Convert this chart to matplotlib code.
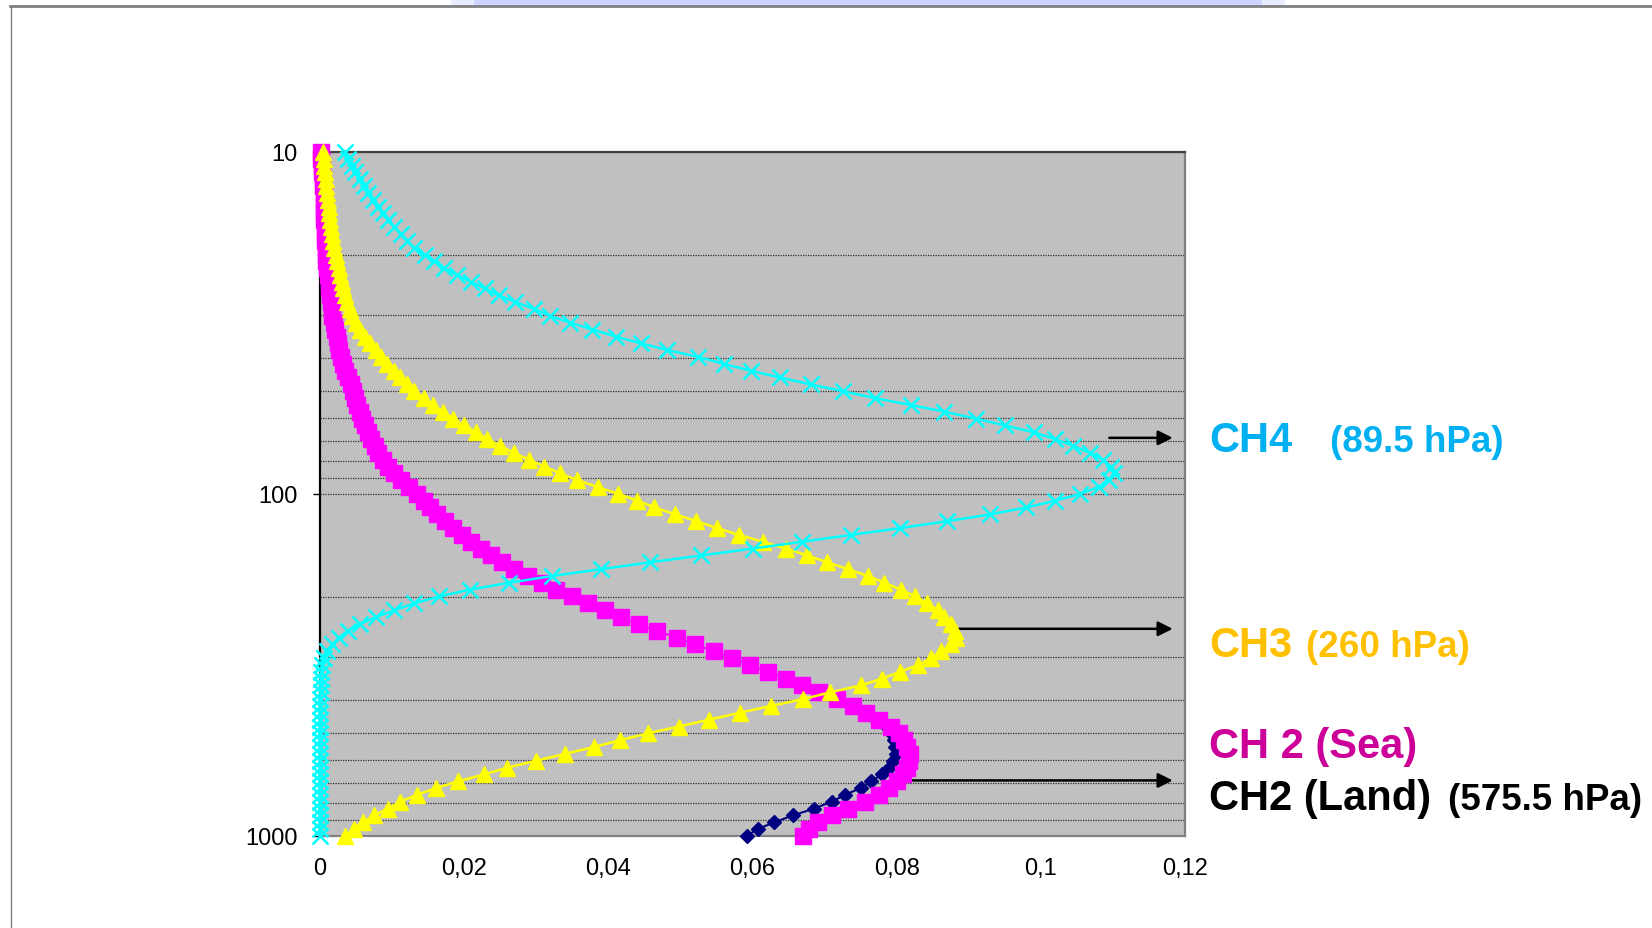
import matplotlib
matplotlib.use("Agg")
import matplotlib.pyplot as plt
from matplotlib.lines import Line2D
from matplotlib.patches import Rectangle
from matplotlib.ticker import LogLocator, FixedLocator, FuncFormatter, NullFormatter

plt.rcParams['font.family'] = ['Liberation Sans', 'DejaVu Sans']

# pressure levels (hPa)
plev = [10.0, 10.5, 11.0, 11.5, 12.0, 12.6, 13.2, 13.8, 14.5, 15.1,
        15.8, 16.6, 17.4, 18.2, 19.1, 20.0, 20.9, 21.9, 22.9, 24.0,
        25.1, 26.3, 27.5, 28.8, 30.2, 31.6, 33.1, 34.7, 36.3, 38.0,
        39.8, 41.7, 43.7, 45.7, 47.9, 50.1, 52.5, 55.0, 57.5, 60.3,
        63.1, 66.1, 69.2, 72.4, 75.9, 79.4, 83.2, 87.1, 91.2, 95.5,
        100.0, 104.7, 109.6, 114.8, 120.2, 125.9, 131.8, 138.0, 144.5, 151.4,
        158.5, 166.0, 173.8, 182.0, 190.5, 199.5, 208.9, 218.8, 229.1, 239.9,
        251.2, 263.0, 275.4, 288.4, 302.0, 316.2, 331.1, 346.7, 363.1, 380.2,
        398.1, 416.9, 436.5, 457.1, 478.6, 501.2, 524.8, 549.5, 575.4, 602.6,
        631.0, 660.7, 691.8, 724.4, 758.6, 794.3, 831.8, 871.0, 912.0, 955.0,
        1000.0]

# weighting functions
ch4 = [0.0035, 0.0039, 0.0044, 0.0049, 0.0055, 0.0061, 0.0067, 0.0073, 0.0080, 0.0087,
       0.0094, 0.0103, 0.0112, 0.0121, 0.0131, 0.0145, 0.0158, 0.0172, 0.0190, 0.0209,
       0.0229, 0.0248, 0.0271, 0.0297, 0.0319, 0.0347, 0.0378, 0.0410, 0.0445, 0.0482,
       0.0525, 0.0560, 0.0598, 0.0638, 0.0681, 0.0725, 0.0770, 0.0820, 0.0866, 0.0910,
       0.0950, 0.0990, 0.1020, 0.1045, 0.1068, 0.1086, 0.1097, 0.1101, 0.1095, 0.1080,
       0.1055, 0.1020, 0.0980, 0.0930, 0.0870, 0.0805, 0.0737, 0.0669, 0.0600, 0.0529,
       0.0458, 0.0390, 0.0322, 0.0262, 0.0208, 0.0165, 0.0131, 0.0103, 0.0078, 0.0056,
       0.0039, 0.0027, 0.0017, 0.0010, 0.0006, 0.0003, 0.0002, 0.0001, 0.0001, 0.0001,
       0.0, 0.0, 0.0, 0.0, 0.0, 0.0, 0.0, 0.0, 0.0, 0.0,
       0.0, 0.0, 0.0, 0.0, 0.0, 0.0, 0.0, 0.0, 0.0, 0.0,
       0.0]

ch3 = [0.0004, 0.0005, 0.0006, 0.0007, 0.0008, 0.0009, 0.0010, 0.0011, 0.0012, 0.0013,
       0.0014, 0.0015, 0.0017, 0.0018, 0.0020, 0.0022, 0.0024, 0.0026, 0.0028, 0.0030,
       0.0032, 0.0035, 0.0038, 0.0041, 0.0045, 0.0050, 0.0056, 0.0063, 0.0070, 0.0077,
       0.0084, 0.0093, 0.0102, 0.0111, 0.0121, 0.0131, 0.0144, 0.0157, 0.0170, 0.0184,
       0.0200, 0.0216, 0.0232, 0.0250, 0.0269, 0.0290, 0.0311, 0.0333, 0.0357, 0.0385,
       0.0414, 0.0440, 0.0464, 0.0493, 0.0522, 0.0551, 0.0581, 0.0614, 0.0646, 0.0676,
       0.0704, 0.0732, 0.0760, 0.0783, 0.0806, 0.0826, 0.0842, 0.0857, 0.0866, 0.0875,
       0.0881, 0.0882, 0.0876, 0.0862, 0.0848, 0.0830, 0.0805, 0.0780, 0.0750, 0.0708,
       0.0670, 0.0625, 0.0582, 0.0540, 0.0498, 0.0455, 0.0416, 0.0380, 0.0340, 0.0300,
       0.0260, 0.0228, 0.0192, 0.0161, 0.0134, 0.0111, 0.0094, 0.0075, 0.0060, 0.0047,
       0.0035]

ch2_sea = [0.0002, 0.0002, 0.0003, 0.0003, 0.0004, 0.0004, 0.0005, 0.0005, 0.0006, 0.0006,
           0.0006, 0.0007, 0.0007, 0.0007, 0.0008, 0.0008, 0.0009, 0.0010, 0.0011, 0.0012,
           0.0013, 0.0014, 0.0015, 0.0016, 0.0017, 0.0019, 0.0021, 0.0023, 0.0025, 0.0027,
           0.0029, 0.0032, 0.0035, 0.0039, 0.0043, 0.0046, 0.0049, 0.0052, 0.0055, 0.0058,
           0.0062, 0.0067, 0.0071, 0.0076, 0.0081, 0.0087, 0.0094, 0.0102, 0.0112, 0.0123,
           0.0135, 0.0144, 0.0153, 0.0163, 0.0174, 0.0185, 0.0197, 0.0210, 0.0223, 0.0237,
           0.0252, 0.0269, 0.0288, 0.0308, 0.0328, 0.0349, 0.0372, 0.0395, 0.0417, 0.0442,
           0.0467, 0.0495, 0.0520, 0.0546, 0.0571, 0.0597, 0.0621, 0.0646, 0.0669, 0.0692,
           0.0717, 0.0740, 0.0757, 0.0776, 0.0792, 0.0803, 0.0810, 0.0814, 0.0818, 0.0817,
           0.0814, 0.0809, 0.0801, 0.0790, 0.0775, 0.0756, 0.0732, 0.0710, 0.0691, 0.0678,
           0.0670]

# land profile only differs from sea in the lower troposphere (398 - 1000 hPa)
plev_land = plev[80:]
ch2_land = [0.0715, 0.0738, 0.0755, 0.0772, 0.0786, 0.0792, 0.0796, 0.0798, 0.0799, 0.0795,
            0.0790, 0.0779, 0.0765, 0.0750, 0.0728, 0.0710, 0.0685, 0.0656, 0.0630, 0.0607,
            0.0592]

xticks = [0, 0.02, 0.04, 0.06, 0.08, 0.1, 0.12]
xticklabels = ["0", "0,02", "0,04", "0,06", "0,08", "0,1", "0,12"]

W, H = 1652, 929
fig = plt.figure(figsize=(W / 100, H / 100), dpi=100)
fig.patch.set_facecolor('white')

# slide decoration
fig.add_artist(Rectangle((451 / W, 1 - 7 / H), 834 / W, 7 / H, transform=fig.transFigure,
                         facecolor='#E8ECFF', edgecolor='none'))
fig.add_artist(Rectangle((474 / W, 1 - 7 / H), 788 / W, 7 / H, transform=fig.transFigure,
                         facecolor='#CCD5FF', edgecolor='none'))
fig.add_artist(Line2D([10 / W, 1], [1 - 7 / H, 1 - 7 / H], transform=fig.transFigure,
                      color='#808080', lw=2))
fig.add_artist(Line2D([10.5 / W, 10.5 / W], [0, 1 - 7 / H], transform=fig.transFigure,
                      color='#808080', lw=1))

ax = fig.add_axes([320 / W, 1 - 837 / H, 865 / W, 684.3 / H])
ax.set_facecolor('#C0C0C0')

ax.plot(ch2_land, plev_land, color='#000080', marker='D', ms=7, lw=1.5, clip_on=False, zorder=3)
ax.plot(ch2_sea, plev, color='#FF00FF', marker='s', ms=11.5, mec='#FF00FF', lw=1.5,
        clip_on=False, zorder=4)
ax.plot(ch3, plev, color='#FFFF00', marker='^', ms=11.5, mec='#FFFF00', lw=1.8,
        clip_on=False, zorder=5)
ax.plot(ch4, plev, color='#00FFFF', marker='x', ms=11, mew=1.8, lw=1.8,
        clip_on=False, zorder=6)

ax.set_yscale('log')
ax.set_ylim(1000, 10)
ax.set_xlim(0, 0.12)

ax.yaxis.set_major_locator(FixedLocator([10, 100, 1000]))
ax.yaxis.set_major_formatter(FuncFormatter(lambda v, p: "%d" % v))
ax.yaxis.set_minor_locator(LogLocator(base=10, subs=range(2, 10)))
ax.yaxis.set_minor_formatter(NullFormatter())
ax.set_xticks(xticks)
ax.set_xticklabels(xticklabels)

ax.tick_params(axis='y', which='major', length=5.3, width=1, direction='out',
               labelsize=17, pad=11)
ax.tick_params(axis='y', which='minor', length=0)
ax.tick_params(axis='x', length=0, labelsize=17, pad=15)

ax.yaxis.grid(True, which='both', linestyle=(0, (1, 1)), color='#303030', lw=0.9)
ax.set_axisbelow(True)

for side, col in [('left', 'black'), ('top', '#404040'), ('right', '#808080'), ('bottom', '#808080')]:
    ax.spines[side].set_color(col)
    ax.spines[side].set_linewidth(1.6)

# arrows to the channel labels
arrow_kw = dict(arrowstyle='-|>', mutation_scale=22, lw=1.8, color='black', shrinkA=0, shrinkB=0)
ax.annotate('', xy=(0.1183, 68.6), xytext=(0.1095, 68.6), arrowprops=arrow_kw)
ax.annotate('', xy=(0.1183, 248), xytext=(0.0874, 248), arrowprops=arrow_kw)
ax.annotate('', xy=(0.1183, 688), xytext=(0.0806, 688), arrowprops=arrow_kw)


def label(x, y, s, color, size):
    fig.text(x / W, 1 - y / H, s, color=color, fontsize=size, fontweight='bold',
             ha='left', va='baseline')


label(1209, 451.7, "CH4", '#00B0F0', 30)
label(1330, 451.7, "(89.5 hPa)", '#00B0F0', 26.5)
label(1209, 656.7, "CH3", '#FFC000', 30)
label(1306, 656.7, "(260 hPa)", '#FFC000', 26.5)
label(1209, 758.3, "CH 2 (Sea)", '#CC0099', 30)
label(1209, 810, "CH2 (Land)", 'black', 30)
label(1448, 810, "(575.5 hPa)", 'black', 26.5)

fig.savefig('out.png', dpi=100)
